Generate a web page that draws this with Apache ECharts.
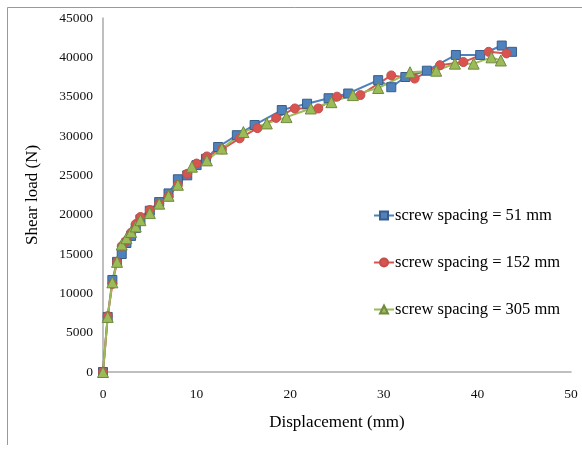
<!DOCTYPE html>
<html><head><meta charset="utf-8">
<script src="https://cdn.jsdelivr.net/npm/echarts@6/dist/echarts.min.js"></script>
<style>html,body{margin:0;padding:0;background:#fff}#c{width:582px;height:450px}</style>
</head><body><div id="c"></div>
<script>
const seriesNames = ['screw spacing = 51 mm', 'screw spacing = 152 mm', 'screw spacing = 305 mm'];
const x51 = [0,0.5,1,1.5,2,2.5,3,3.5,4,5,6,7,8,9,10,11,12.3,14.3,16.2,19.1,21.8,24.1,26.2,29.4,30.8,32.3,34.6,37.7,40.3,42.6,43.7];
const y51 = [0,7000,11700,14000,15000,16400,17300,18300,19400,20500,21600,22700,24500,25000,26300,27100,28600,30100,31400,33300,34100,34800,35400,37100,36200,37500,38300,40300,40300,41500,40700];
const x152 = [0,0.5,1,1.5,2,2.5,3,3.5,4,5,6,7,8,9,10,11.1,12.7,14.6,16.5,18.5,20.5,23,25,27.5,30.8,33.3,36,38.5,41.2,43.1];
const y152 = [0,7100,11200,14000,16000,16700,17700,18800,19700,20600,21400,22300,23800,25200,26500,27400,28300,29700,31000,32300,33500,33500,35000,35200,37700,37300,39000,39400,40700,40500];
const x305 = [0,0.5,1,1.5,2,2.5,3,3.5,4,5,6,7,8,9.5,11.1,12.7,15,17.5,19.6,22.2,24.4,26.7,29.4,32.8,35.6,37.6,39.6,41.5,42.5];
const y305 = [0,7000,11400,14000,16200,17000,17800,18500,19300,20200,21400,22400,23800,26100,26900,28400,30500,31600,32400,33500,34300,35200,36100,38100,38300,39200,39200,40000,39600];
const xTicks = [0,10,20,30,40,50];
const yTicks = [0,5000,10000,15000,20000,25000,30000,35000,40000,45000];

const pair = (xs, ys) => xs.map((v, i) => [v, ys[i]]);
const font = '"Liberation Serif", "Times New Roman", serif';
const chart = echarts.init(document.getElementById('c'), null, {renderer: 'canvas'});
const mk = (name, data, symbol, size, color, border) => ({
  name, type: 'line', data, symbol, symbolSize: size, animation: false,
  lineStyle: {color, width: 2},
  itemStyle: {color, borderColor: border, borderWidth: 1}
});
chart.setOption({
  animation: false,
  backgroundColor: '#fff',
  graphic: [
    {type: 'line', shape: {x1: 7.5, y1: 7.5, x2: 582, y2: 7.5}, style: {stroke: '#999', lineWidth: 1}},
    {type: 'line', shape: {x1: 7.5, y1: 7.5, x2: 7.5, y2: 445}, style: {stroke: '#999', lineWidth: 1}}
  ],
  grid: {left: 103, top: 18, right: 11, bottom: 78},
  xAxis: {
    type: 'value', min: 0, max: 50, interval: 10,
    name: 'Displacement (mm)', nameLocation: 'middle', nameGap: 42,
    nameTextStyle: {fontFamily: font, fontSize: 17, color: '#000'},
    axisLine: {lineStyle: {color: '#aaa', width: 1.5}},
    axisTick: {show: false},
    splitLine: {show: false},
    axisLabel: {fontFamily: font, fontSize: 13.5, color: '#111', margin: 15,
      formatter: v => xTicks.includes(v) ? String(v) : ''}
  },
  yAxis: {
    type: 'value', min: 0, max: 45000, interval: 5000,
    name: 'Shear load (N)', nameLocation: 'middle', nameGap: 62, nameRotate: 90,
    nameTextStyle: {fontFamily: font, fontSize: 17, color: '#000'},
    axisLine: {show: true, lineStyle: {color: '#aaa', width: 1.5}},
    axisTick: {show: false},
    splitLine: {show: false},
    axisLabel: {fontFamily: font, fontSize: 13.5, color: '#111', margin: 10,
      formatter: v => yTicks.includes(v) ? String(v) : ''}
  },
  legend: {
    orient: 'vertical', left: 368, top: 202, itemGap: 30, itemWidth: 20, itemHeight: 10,
    textStyle: {fontFamily: font, fontSize: 16.5, color: '#000', padding: [0,0,0,-4]},
    data: seriesNames
  },
  series: [
    mk(seriesNames[0], pair(x51, y51), 'rect', 9, '#4F81BD', '#385D8A'),
    mk(seriesNames[1], pair(x152, y152), 'circle', 9, '#D9534F', '#C0504D'),
    mk(seriesNames[2], pair(x305, y305), 'triangle', 11, '#9BBB59', '#71893F')
  ]
});
</script></body></html>
